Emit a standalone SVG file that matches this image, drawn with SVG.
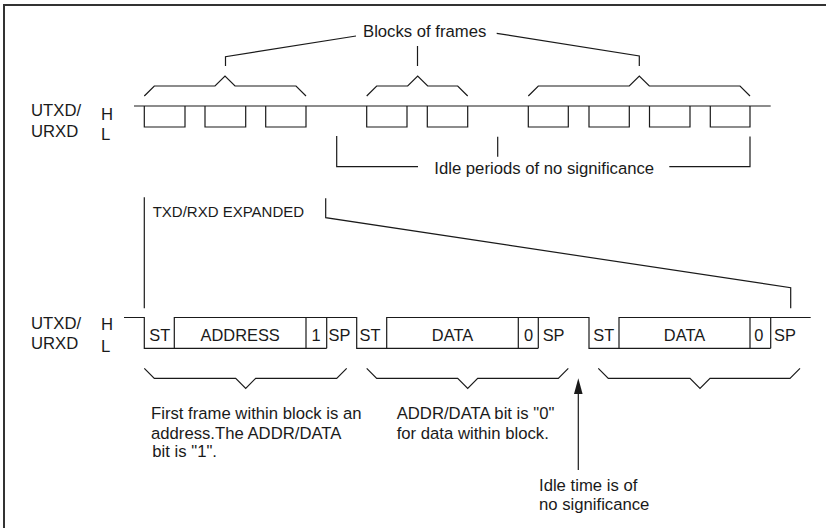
<svg xmlns="http://www.w3.org/2000/svg" width="826" height="528" viewBox="0 0 826 528">
<style>
.ln{fill:none;stroke:#1a1a1a;stroke-width:1.2;stroke-linejoin:miter}
.t{font-family:"Liberation Sans",Arial,sans-serif;font-size:16.7px;fill:#1a1a1a}
.c{font-family:"Liberation Sans",Arial,sans-serif;font-size:16.4px;fill:#1a1a1a}
.s{font-family:"Liberation Sans",Arial,sans-serif;font-size:15px;fill:#1a1a1a}
</style>
<rect width="826" height="528" fill="#fff"/>
<g id="frame"><path d="M4,528 V5 H826" fill="none" stroke="#333" stroke-width="2"/></g>

<g id="top-labels">
<text class="t" x="31" y="116">UTXD/</text>
<text class="t" x="31" y="137">URXD</text>
<text class="t" x="101" y="119.5">H</text>
<text class="t" x="101" y="139.5">L</text>
</g>

<g id="top-waveform">
<path class="ln" d="M134,106 H770.7 M144.3,106 V127 H185 V106 M205,106 V127 H245.7 V106 M265.7,106 V127 H306 V106 M366.7,106 V127 H407 V106 M427.3,106 V127 H467.7 V106 M528.3,106 V127 H568.3 V106 M589,106 V127 H629.3 V106 M649.5,106 V127 H690 V106 M710.3,106 V127 H750 V106"/>
</g>

<g id="blocks-label">
<text class="t" x="363" y="36.5">Blocks of frames</text>
</g>

<g id="idle-label">
<text class="t" x="434.3" y="173.5">Idle periods of no significance</text>
</g>

<g id="expanded-label">
<text class="s" x="152.7" y="216.7">TXD/RXD EXPANDED</text>
</g>

<g id="bottom-labels">
<text class="t" x="31" y="328.5">UTXD/</text>
<text class="t" x="31" y="348.5">URXD</text>
<text class="t" x="101" y="330">H</text>
<text class="t" x="101" y="351.5">L</text>
</g>

<g id="bottom-waveform">
<path class="ln" d="M124,317.5 H144.3 V348.3 H326.7 M174.3,348.3 V317.5 H356.7 V348.3 H538.3 M306,317.5 V348.3 M326.7,317.5 V348.3 M386.7,348.3 V317.5 H589 V348.3 H770.7 M518.3,317.5 V348.3 M538.3,317.5 V348.3 M619,348.3 V317.5 H810.7 M750,317.5 V348.3 M770.7,317.5 V348.3"/>
<text class="c" x="149.3" y="341">ST</text>
<text class="c" x="240.2" y="341" text-anchor="middle">ADDRESS</text>
<text class="c" x="311.5" y="341">1</text>
<text class="c" x="328.5" y="341">SP</text>
<text class="c" x="359.5" y="341">ST</text>
<text class="c" x="452.5" y="341" text-anchor="middle">DATA</text>
<text class="c" x="524" y="341">0</text>
<text class="c" x="542.7" y="341">SP</text>
<text class="c" x="593.3" y="341">ST</text>
<text class="c" x="684.5" y="341" text-anchor="middle">DATA</text>
<text class="c" x="754.3" y="341">0</text>
<text class="c" x="774" y="341">SP</text>
</g>

<g id="notes">
<text class="t" x="151" y="419.3">First frame within block is an</text>
<text class="t" x="151" y="439" font-size="16">address.The ADDR/DATA</text>
<text class="t" x="152.3" y="457" font-size="16.2">bit is "1".</text>
<text class="t" x="396.7" y="419.3">ADDR/DATA bit is "0"</text>
<text class="t" x="396.7" y="439.3">for data within block.</text>
<text class="t" x="539" y="490.7">Idle time is of</text>
<text class="t" x="539" y="509.5">no significance</text>
</g>

<g id="connectors">
<path class="ln" d="M144.3,96 L154.3,86 H215 L225,76 L235,86 H296 L306,96"/>
<path class="ln" d="M366.7,96 L376.7,86 H407.7 L417.7,76 L427.7,86 H457.7 L467.7,96"/>
<path class="ln" d="M528.3,96 L538.3,86 H629.3 L639.3,76 L649.3,86 H740 L750,96"/>
<path class="ln" d="M225.5,66 V56.7 L356,36"/>
<path class="ln" d="M417.5,66 V46"/>
<path class="ln" d="M639.3,66 V56 L496.7,33.3"/>
<path class="ln" d="M336.7,136 V166.7 H418"/>
<path class="ln" d="M669.3,166.7 H750 V136.5"/>
<path class="ln" d="M497.7,136.7 V156.7"/>
<path class="ln" d="M144.3,197.3 V308.3"/>
<path class="ln" d="M325.7,198.3 V217.7 L790.7,287.7 V308.3"/>
<path class="ln" d="M144.3,368.3 L154.3,378.3 H235.7 L245.7,388.3 L255.7,378.3 H336.7 L346.7,368.3"/>
<path class="ln" d="M366.7,368.3 L376.7,378.3 H457.7 L467.7,388.3 L477.7,378.3 H558.3 L568.3,368.3"/>
<path class="ln" d="M598.3,368.3 L608.3,378.3 H690 L700,388.3 L710,378.3 H790 L800,368.3"/>
<path class="ln" d="M578.3,470 V392"/>
<path d="M578.3,378.3 L574,394 H582.6 Z" fill="#1a1a1a"/>
</g>
</svg>
